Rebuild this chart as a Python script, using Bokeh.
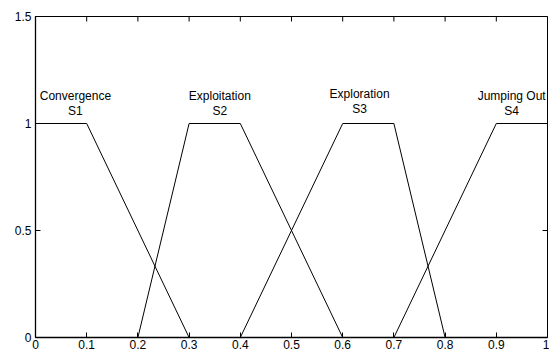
import math
from bokeh.plotting import figure
from bokeh.models import FixedTicker, Range1d
from bokeh.core.properties import value
from bokeh.embed import file_html
from bokeh.resources import INLINE

# ---- data ----
x_ticks = [0, 0.1, 0.2, 0.3, 0.4, 0.5, 0.6, 0.7, 0.8, 0.9, 1]
x_tick_labels = ["0", "0.1", "0.2", "0.3", "0.4", "0.5", "0.6", "0.7", "0.8", "0.9", "1"]
y_ticks = [0, 0.5, 1, 1.5]
y_tick_labels = ["0", "0.5", "1", "1.5"]

s1_x = [0, 0.1, 0.3]
s1_y = [1, 1, 0]
s2_x = [0.2, 0.3, 0.4, 0.6]
s2_y = [0, 1, 1, 0]
s3_x = [0.4, 0.6, 0.7, 0.8]
s3_y = [0, 1, 1, 0]
s4_x = [0.7, 0.9, 1.0]
s4_y = [0, 1, 1]

label_texts = ["Convergence\nS1", "Exploitation\nS2", "Exploration\nS3", "Jumping Out\nS4"]
label_x = [0.078, 0.36, 0.633, 0.93]
label_y = [1.025, 1.025, 1.035, 1.025]

FONT = "Liberation Sans"

p = figure(width=549, height=351, output_backend="svg", toolbar_location=None,
           x_range=Range1d(x_ticks[0], x_ticks[-1]), y_range=Range1d(y_ticks[0], y_ticks[-1]),
           min_border_left=35, min_border_right=2, min_border_top=16, min_border_bottom=0,
           background_fill_color="white", border_fill_color="white")
p.outline_line_color = "black"
p.outline_line_width = 1
p.xgrid.visible = False
p.ygrid.visible = False

def style_axis(ax, ticks, labels, standoff):
    ax.ticker = FixedTicker(ticks=ticks)
    ax.major_label_overrides = {t: l for t, l in zip(ticks, labels)}
    ax.major_tick_in = 5
    ax.major_tick_out = 0
    ax.minor_tick_line_color = None
    ax.axis_line_color = "black"
    ax.axis_line_width = 1.3
    ax.major_tick_line_color = "black"
    ax.major_label_text_font = FONT
    ax.major_label_text_color = "black"
    ax.major_label_text_font_size = "12px"
    ax.major_label_standoff = standoff

style_axis(p.xaxis[0], x_ticks, x_tick_labels, 2)
style_axis(p.yaxis[0], y_ticks, y_tick_labels, 4)

# inward ticks on the top and right frame edges (half of each dash is clipped by the frame)
p.scatter(x=x_ticks, y=[y_ticks[-1]] * len(x_ticks), marker="dash", angle=math.pi / 2,
          size=10, line_color="black", line_width=1)
p.scatter(x=[x_ticks[-1]] * len(y_ticks), y=y_ticks, marker="dash",
          size=10, line_color="black", line_width=1)

for xs, ys in [(s1_x, s1_y), (s2_x, s2_y), (s3_x, s3_y), (s4_x, s4_y)]:
    p.line(xs, ys, line_color="black", line_width=1)

p.text(x=label_x, y=label_y, text=label_texts, text_align="center", text_baseline="bottom",
       text_font=value(FONT), text_font_size="12px", text_color="black", text_line_height=1.05)

open("out.html", "w").write(file_html(p, INLINE))
